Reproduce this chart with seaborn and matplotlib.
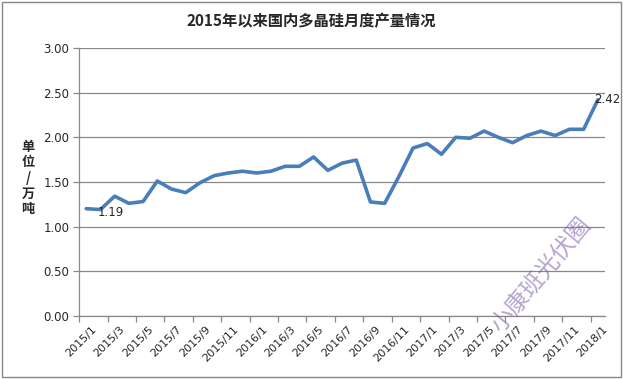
import matplotlib
matplotlib.use("Agg")
import matplotlib.pyplot as plt
import matplotlib.transforms as mtransforms
import seaborn as sns
import pandas as pd
import numpy as np

months = [f"{y}/{m}" for y in (2015, 2016, 2017) for m in range(1, 13)] + ["2018/1"]
output = [1.20, 1.19, 1.34, 1.26, 1.28, 1.51, 1.42, 1.38, 1.49, 1.57, 1.60, 1.62,
          1.60, 1.62, 1.675, 1.675, 1.78, 1.63, 1.71, 1.745, 1.275, 1.26, 1.56, 1.88,
          1.93, 1.81, 2.00, 1.99, 2.07, 2.00, 1.94, 2.02, 2.07, 2.02, 2.09, 2.09, 2.42]
yticks = [0.0, 0.5, 1.0, 1.5, 2.0, 2.5, 3.0]
title = "2015年以来国内多晶硅月度产量情况"
ylabel = "单\n位\n/\n万\n吨"
labeled = {1: "1.19", 36: "2.42"}
watermark = "小康班光伏圈"

sns.set_theme(style="white")
plt.rcParams['font.family'] = ['Noto Sans CJK SC', 'DejaVu Sans']

df = pd.DataFrame({"idx": np.arange(len(months)), "month": months, "value": output})

fig = plt.figure(figsize=(6.23, 3.79), dpi=100)
ax = fig.add_axes([0.127, 0.167, 0.844, 0.706])

sns.lineplot(data=df, x="idx", y="value", ax=ax, color="#4A7EBB", linewidth=2.6)

ax.set_xlim(-0.5, len(months) - 0.5)
ax.set_ylim(0, 3.0)
ax.set_yticks(yticks)
ax.set_yticklabels([f"{v:.2f}" for v in yticks], fontsize=8.5, family=['DejaVu Sans'])
ax.yaxis.grid(True, color="#888888", linewidth=0.9)
ax.xaxis.grid(False)

major = np.arange(0, len(months), 2)
ax.set_xticks(major)
ax.set_xticklabels([months[i] for i in major], rotation=45, ha="right",
                   rotation_mode="anchor", fontsize=8, family=['DejaVu Sans'])
ax.tick_params(axis="x", which="major", length=0, pad=6)
offset = mtransforms.ScaledTranslation(5 / 100, 0, fig.dpi_scale_trans)
for lab in ax.get_xticklabels():
    lab.set_transform(lab.get_transform() + offset)
ax.set_xticks(np.arange(-0.5, len(months), 2), minor=True)
ax.tick_params(axis="x", which="minor", length=4, color="#888888", width=0.9, direction="out", bottom=True)
ax.tick_params(axis="y", length=4, color="#888888", width=0.9, direction="out", left=True, pad=3)

for s in ["top", "right"]:
    ax.spines[s].set_visible(False)
for s in ["left", "bottom"]:
    ax.spines[s].set_color("#888888")
    ax.spines[s].set_linewidth(0.9)

ax.set_xlabel("")
ax.set_ylabel("")

for i, txt in labeled.items():
    if i == 1:
        ax.annotate(txt, (i, output[i]), xytext=(-2, -2), textcoords="offset points",
                    ha="left", va="center", fontsize=8.5, family=['DejaVu Sans'])
    else:
        ax.annotate(txt, (i, output[i]), xytext=(-3, 0), textcoords="offset points",
                    ha="left", va="center", fontsize=8.5, family=['DejaVu Sans'])

fig.text(0.5, 0.945, title, ha="center", va="center", fontsize=11, fontweight="bold")
fig.text(0.045, 0.53, ylabel, ha="center", va="center", fontsize=9.5, fontweight="bold",
         linespacing=1.15)

fig.text(0.868, 0.275, watermark, ha="center", va="center", fontsize=17, rotation=50,
         color="#7a5aa8", alpha=0.55)

border = plt.Rectangle((0.003, 0.004), 0.994, 0.99, transform=fig.transFigure,
                       fill=False, edgecolor="#888888", linewidth=1.0)
fig.add_artist(border)

fig.savefig("out.png", dpi=100, facecolor="white")
